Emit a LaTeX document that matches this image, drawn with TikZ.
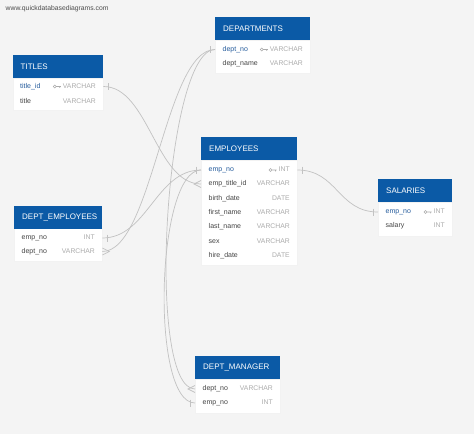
\documentclass[tikz,border=0pt]{standalone}
\usepackage{fontspec}
\setmainfont{Liberation Sans}
\usetikzlibrary{calc}
\definecolor{bg}{HTML}{F4F4F4}
\definecolor{hdr}{HTML}{0B5AA6}
\definecolor{pk}{HTML}{245B9C}
\definecolor{fld}{HTML}{444444}
\definecolor{typc}{HTML}{ABABAB}
\definecolor{lnk}{HTML}{C2C2C2}
\tikzset{
 hdrbox/.style={fill=hdr, text=white, font=\fontsize{8}{9}\selectfont, inner xsep=8pt, inner ysep=0pt, align=left, minimum height=23pt, anchor=north west},
 bodybox/.style={fill=white, draw=black!5, inner sep=0pt, anchor=north west},
 rowbox/.style={inner sep=0pt, minimum height=12pt},
 fname/.style={text=fld, font=\fontsize{7}{8}\selectfont, inner sep=0pt, text height=5.2pt, text depth=1.5pt},
 pname/.style={text=pk, font=\fontsize{7}{8}\selectfont, inner sep=0pt, text height=5.2pt, text depth=1.5pt},
 typ/.style={text=typc, font=\fontsize{6.8}{8}\selectfont, inner sep=0pt, text height=5.2pt, text depth=1.5pt},
 conn/.style={draw=lnk, line width=0.7pt},
 keyic/.style={draw=typc, line width=0.6pt},
 wmark/.style={text=black!70, font=\fontsize{6.8}{8}\selectfont, inner sep=0pt},
}
% #1 id, #2 xl, #3 width, #4 y, #5 field, #6 type, #7 field style
\newcommand\frow[7]{%
  \node[rowbox, minimum width=#3pt, anchor=west] (#1) at (#2,#4) {};
  \node[#7, anchor=west] (#1-n) at ($(#1.west)+(7.5,0)$) {#5};
  \node[typ, anchor=east] (#1-t) at ($(#1.east)+(-7.5,0)$) {#6};
}
\newcommand\pkey[1]{%
  \draw[keyic] ($(#1.west)+(-8,0)$) circle (1.5pt)
    ($(#1.west)+(-6.5,0)$) -- ($(#1.west)+(-2,0)$)
    ($(#1.west)+(-3,0)$) -- ++(0,1.4);
}
\newcommand\barR[1]{\draw[conn] ($(#1.east)+(5,-3.5)$) -- ++(0,7);}
\newcommand\barL[1]{\draw[conn] ($(#1.west)+(-5,-3.5)$) -- ++(0,7);}
\newcommand\crowR[1]{\draw[conn] ($(#1.east)+(0,-3.5)$) -- ($(#1.east)+(7,0)$) -- ($(#1.east)+(0,3.5)$);}
\newcommand\crowL[1]{\draw[conn] ($(#1.west)+(0,-3.5)$) -- ($(#1.west)+(-7,0)$) -- ($(#1.west)+(0,3.5)$);}
\begin{document}
\begin{tikzpicture}[x=1pt,y=-1pt]
\fill[bg] (0,0) rectangle (474,434);
\useasboundingbox (0,0) rectangle (474,434);
\node[wmark, anchor=west] (wm) at (5.5,9) {www.quickdatabasediagrams.com};

% ---------- table bodies and headers ----------
% DEPARTMENTS
\node[bodybox, minimum width=95pt, minimum height=33pt] (dep-b) at (215,40) {};
\node[hdrbox, text width=79pt] (dep-h) at (215,17) {DEPARTMENTS};
\frow{dep-r1}{215}{95}{49.5}{dept\_no}{VARCHAR}{pname}
\frow{dep-r2}{215}{95}{63.5}{dept\_name}{VARCHAR}{fname}
\pkey{dep-r1-t}

% TITLES
\node[bodybox, minimum width=90.5pt, minimum height=32.5pt] (tit-b) at (12.5,77.5) {};
\node[hdrbox, text width=74.5pt] (tit-h) at (12.5,55) {TITLES};
\frow{tit-r1}{12.5}{90.5}{86.5}{title\_id}{VARCHAR}{pname}
\frow{tit-r2}{12.5}{90.5}{101.5}{title}{VARCHAR}{fname}
\pkey{tit-r1-t}

% EMPLOYEES
\node[bodybox, minimum width=96pt, minimum height=105pt] (emp-b) at (201,160) {};
\node[hdrbox, text width=80pt] (emp-h) at (201,137) {EMPLOYEES};
\frow{emp-r1}{201}{96}{170}{emp\_no}{INT}{pname}
\frow{emp-r2}{201}{96}{184}{emp\_title\_id}{VARCHAR}{fname}
\frow{emp-r3}{201}{96}{198.5}{birth\_date}{DATE}{fname}
\frow{emp-r4}{201}{96}{213}{first\_name}{VARCHAR}{fname}
\frow{emp-r5}{201}{96}{227}{last\_name}{VARCHAR}{fname}
\frow{emp-r6}{201}{96}{241.5}{sex}{VARCHAR}{fname}
\frow{emp-r7}{201}{96}{256}{hire\_date}{DATE}{fname}
\pkey{emp-r1-t}

% SALARIES
\node[bodybox, minimum width=74pt, minimum height=34.5pt] (sal-b) at (378,201.5) {};
\node[hdrbox, text width=58pt] (sal-h) at (378,179) {SALARIES};
\frow{sal-r1}{378}{74}{212}{emp\_no}{INT}{pname}
\frow{sal-r2}{378}{74}{226}{salary}{INT}{fname}
\pkey{sal-r1-t}

% DEPT_EMPLOYEES
\node[bodybox, minimum width=88pt, minimum height=33pt] (dem-b) at (14,228) {};
\node[hdrbox, text width=72pt] (dem-h) at (14,205.5) {DEPT\_EMPLOYEES};
\frow{dem-r1}{14}{88}{238}{emp\_no}{INT}{fname}
\frow{dem-r2}{14}{88}{251.5}{dept\_no}{VARCHAR}{fname}

% DEPT_MANAGER
\node[bodybox, minimum width=85pt, minimum height=34.5pt] (dmg-b) at (195,378.5) {};
\node[hdrbox, text width=69pt] (dmg-h) at (195,356) {DEPT\_MANAGER};
\frow{dmg-r1}{195}{85}{389}{dept\_no}{VARCHAR}{fname}
\frow{dmg-r2}{195}{85}{403}{emp\_no}{INT}{fname}

% ---------- connectors ----------
\draw[conn] (tit-r1.east) .. controls +(45,0) and +(-45,0) .. (emp-r2.west);
\draw[conn] (dem-r1.east) .. controls +(45,0) and +(-45,0) .. (emp-r1.west);
\draw[conn] (dem-r2.east) .. controls +(50,0) and +(-50,0) .. (dep-r1.west);
\draw[conn] (dmg-r1.west) .. controls +(-50,0) and +(-50,0) .. (dep-r1.west);
\draw[conn] (dmg-r2.west) .. controls +(-45,0) and +(-45,0) .. (emp-r1.west);
\draw[conn] (emp-r1.east) .. controls +(40,0) and +(-40,0) .. (sal-r1.west);

% ---------- end markers ----------
\barR{tit-r1}
\crowL{emp-r2}
\barL{emp-r1}
\barR{emp-r1}
\barL{sal-r1}
\barL{dep-r1}
\barR{dem-r1}
\crowR{dem-r2}
\crowL{dmg-r1}
\barL{dmg-r2}
\end{tikzpicture}
\end{document}
